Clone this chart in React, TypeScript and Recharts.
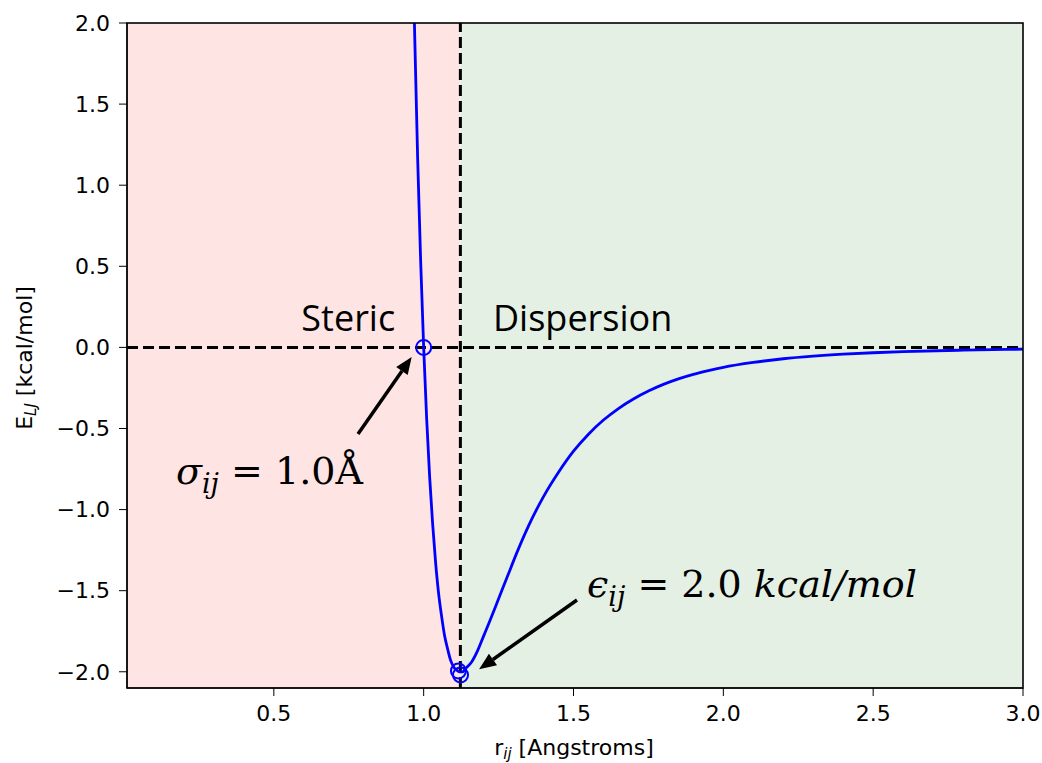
import React from 'react'
import {
  ComposedChart,
  Line,
  Scatter,
  XAxis,
  YAxis,
  ReferenceArea,
  ReferenceLine,
} from 'recharts'

// Lennard-Jones curve
const rValues = [
  0.965, 0.97, 0.98, 0.99, 1.0, 1.01, 1.02, 1.03, 1.04, 1.05, 1.06, 1.07, 1.08, 1.09, 1.1, 1.11,
  1.12, 1.13, 1.14, 1.16, 1.18, 1.2, 1.22, 1.25, 1.28, 1.31, 1.35, 1.4, 1.45, 1.5, 1.55, 1.6,
  1.65, 1.7, 1.75, 1.8, 1.85, 1.9, 1.95, 2.0, 2.1, 2.2, 2.3, 2.4, 2.5, 2.6, 2.8, 3.0,
]
const energyValues = [
  2.36, 1.93, 1.16, 0.53, 0.0, -0.44, -0.8, -1.09, -1.33, -1.52, -1.66, -1.78, -1.86, -1.93,
  -1.97, -1.99, -2.0, -2.0, -1.98, -1.94, -1.87, -1.78, -1.69, -1.55, -1.41, -1.27, -1.1, -0.92,
  -0.77, -0.64, -0.535, -0.448, -0.377, -0.318, -0.269, -0.228, -0.194, -0.166, -0.143, -0.123,
  -0.093, -0.07, -0.054, -0.042, -0.033, -0.026, -0.017, -0.011,
]

// open circle markers
const markerR = [1.0, 1.116, 1.123]
const markerE = [0.0, -1.995, -2.02]

const xTicks = [0.5, 1.0, 1.5, 2.0, 2.5, 3.0]
const yTicks = [-2.0, -1.5, -1.0, -0.5, 0.0, 0.5, 1.0, 1.5, 2.0]

const X_DOMAIN: [number, number] = [0.01, 3.0]
const Y_DOMAIN: [number, number] = [-2.1, 2.0]
const R_MIN = 1.1225 // 2^(1/6) sigma

const curve = rValues.map((r, i) => ({ r, E: energyValues[i] }))
const markers = markerR.map((r, i) => ({ r, E: markerE[i] }))

const W = 1042
const H = 763
const PLOT = { left: 127, top: 23, right: 1023, bottom: 688 }

const px = (x: number) =>
  PLOT.left + ((x - X_DOMAIN[0]) / (X_DOMAIN[1] - X_DOMAIN[0])) * (PLOT.right - PLOT.left)
const py = (y: number) =>
  PLOT.top + ((Y_DOMAIN[1] - y) / (Y_DOMAIN[1] - Y_DOMAIN[0])) * (PLOT.bottom - PLOT.top)

const fmt = (v: number) => v.toFixed(1).replace('-', '\u2212')

const tickStyle = { fill: '#000', fontSize: 22, fontFamily: 'DejaVu Sans' }

function Arrow({ x1, y1, x2, y2 }: { x1: number; y1: number; x2: number; y2: number }) {
  const a = Math.atan2(y2 - y1, x2 - x1)
  const len = 17
  const half = 7
  const bx = x2 - len * Math.cos(a)
  const by = y2 - len * Math.sin(a)
  const p1 = `${bx + half * Math.sin(a)},${by - half * Math.cos(a)}`
  const p2 = `${bx - half * Math.sin(a)},${by + half * Math.cos(a)}`
  return (
    <g>
      <line x1={x1} y1={y1} x2={bx} y2={by} stroke="#000" strokeWidth={3.5} />
      <polygon points={`${x2},${y2} ${p1} ${p2}`} fill="#000" />
    </g>
  )
}

export default function App() {
  return (
    <div style={{ position: 'absolute', left: 0, top: 0, width: W, height: H, background: '#fff' }}>
      <ComposedChart
        width={W}
        height={H}
        margin={{ top: PLOT.top, right: W - PLOT.right, bottom: 0, left: 0 }}
      >
        <XAxis
          type="number"
          dataKey="r"
          domain={X_DOMAIN}
          ticks={xTicks}
          interval={0}
          allowDataOverflow
          height={H - PLOT.bottom}
          tickFormatter={fmt}
          tick={tickStyle}
          tickSize={8}
          tickMargin={9}
          stroke="#000"
        />
        <YAxis
          type="number"
          dataKey="E"
          domain={Y_DOMAIN}
          ticks={yTicks}
          interval={0}
          allowDataOverflow
          width={PLOT.left}
          tickFormatter={fmt}
          tick={tickStyle}
          tickSize={8}
          tickMargin={9}
          stroke="#000"
        />
        <ReferenceArea x1={X_DOMAIN[0]} x2={R_MIN} fill="#ffe4e4" fillOpacity={1} stroke="none" />
        <ReferenceArea x1={R_MIN} x2={X_DOMAIN[1]} fill="#e4f0e3" fillOpacity={1} stroke="none" />
        <ReferenceLine y={0} stroke="#000" strokeWidth={3} strokeDasharray="11 5" />
        <ReferenceLine x={R_MIN} stroke="#000" strokeWidth={3} strokeDasharray="11 5" />
        <Line
          data={curve}
          dataKey="E"
          type="monotone"
          stroke="#0000ff"
          strokeWidth={2.8}
          dot={false}
          isAnimationActive={false}
        />
        <Scatter
          data={markers}
          dataKey="E"
          isAnimationActive={false}
          shape={(p: any) => (
            <circle cx={p.cx} cy={p.cy} r={7.5} fill="none" stroke="#0000ff" strokeWidth={2} />
          )}
        />
      </ComposedChart>

      {/* frame, axis titles and annotations */}
      <svg
        width={W}
        height={H}
        style={{ position: 'absolute', left: 0, top: 0, pointerEvents: 'none' }}
      >
        <rect
          x={PLOT.left}
          y={PLOT.top}
          width={PLOT.right - PLOT.left}
          height={PLOT.bottom - PLOT.top}
          fill="none"
          stroke="#000"
          strokeWidth={1.6}
        />
        <text x={px(0.905)} y={331} textAnchor="end" fontFamily="Open Sans" fontSize={36} fill="#000">
          Steric
        </text>
        <text x={493} y={331} fontFamily="Open Sans" fontSize={36} fill="#000">
          Dispersion
        </text>

        <text x={176} y={484} fontFamily="DejaVu Serif" fontSize={38} fill="#000">
          <tspan fontStyle="italic">σ</tspan>
          <tspan fontStyle="italic" fontSize={27} dy={9}>ij</tspan>
          <tspan dy={-9}> = 1.0Å</tspan>
        </text>
        <text x={587} y={597} fontFamily="DejaVu Serif" fontSize={38} fill="#000">
          <tspan fontStyle="italic">ϵ</tspan>
          <tspan fontStyle="italic" fontSize={27} dy={9}>ij</tspan>
          <tspan dy={-9}> = 2.0 </tspan>
          <tspan fontStyle="italic">kcal/mol</tspan>
        </text>

        <Arrow x1={358} y1={434} x2={px(0.96)} y2={py(-0.06)} />
        <Arrow x1={577} y1={600} x2={px(1.185)} y2={py(-1.985)} />

        <text x={574} y={755} textAnchor="middle" fontFamily="DejaVu Sans" fontSize={22} fill="#000">
          r<tspan fontSize={15} dy={4} fontStyle="italic">ij</tspan>
          <tspan dy={-4}> [Angstroms]</tspan>
        </text>
        <text
          transform="translate(32, 358) rotate(-90)"
          textAnchor="middle"
          fontFamily="DejaVu Sans"
          fontSize={22}
          fill="#000"
        >
          E<tspan fontSize={15} dy={4} fontStyle="italic">LJ</tspan>
          <tspan dy={-4}> [kcal/mol]</tspan>
        </text>
      </svg>
    </div>
  )
}
